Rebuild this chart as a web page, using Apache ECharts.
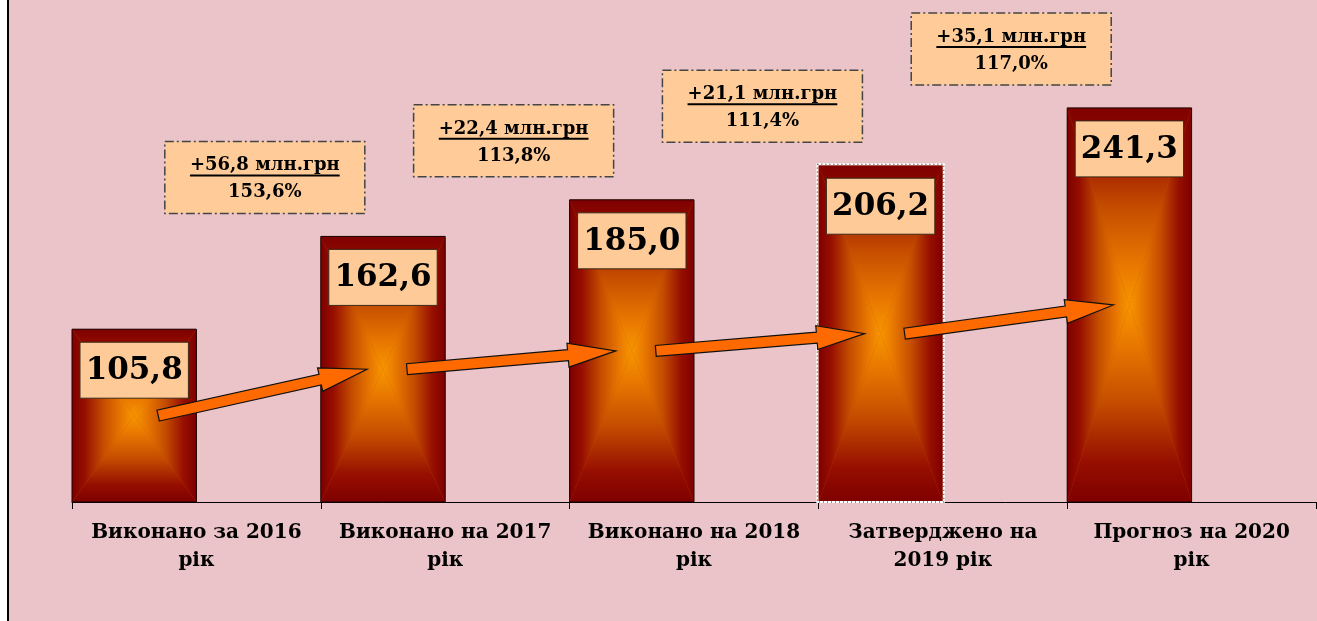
<!DOCTYPE html>
<html><head><meta charset="utf-8">
<script src="https://cdn.jsdelivr.net/npm/echarts@6/dist/echarts.min.js"></script>
<style>html,body{margin:0;padding:0;background:#fff}#c{width:1317px;height:621px}</style>
</head><body><div id="c"></div>
<script>
// ---- data ----
const categories = ['Виконано за 2016 рік', 'Виконано на 2017 рік', 'Виконано на 2018 рік', 'Затверджено на 2019 рік', 'Прогноз на 2020 рік'];
const values = [105.8, 162.6, 185.0, 206.2, 241.3];
const valueLabels = ['105,8', '162,6', '185,0', '206,2', '241,3'];
const growthAbs = ['+56,8', '+22,4', '+21,1', '+35,1'];
const growthPct = ['153,6%', '113,8%', '111,4%', '117,0%'];
const growthUnit = 'млн.грн';

// ---- style ----
const FONT = '"DejaVu Serif", "Liberation Serif", serif';
const AXIS_FONT = 'bold 20px ' + FONT;
const VAL_FONT = 'bold 31px ' + FONT;
const ANN_FONT = 'bold 18px ' + FONT;
const highlightIndex = 3;
const barStops = [
  {offset: 0, color: '#7e0000'}, {offset: 0.2, color: '#960e00'}, {offset: 0.5, color: '#c44c00'},
  {offset: 0.8, color: '#e87800'}, {offset: 1, color: '#f89600'}
];

const mctx = document.createElement('canvas').getContext('2d');
function tw(t, font) { mctx.font = font; return mctx.measureText(t).width; }
function wrap(label, font, maxW) {
  const words = label.split(' '); const lines = []; let cur = '';
  for (const w of words) {
    const t = cur ? cur + ' ' + w : w;
    if (cur && tw(t, font) > maxW) { lines.push(cur); cur = w; } else cur = t;
  }
  lines.push(cur); return lines.join('\n');
}
function grad(x, y, x2, y2) {
  return new echarts.graphic.LinearGradient(x, y, x2, y2, barStops, true);
}

function renderBar(params, api) {
  const i = api.value(0), v = api.value(1);
  const top = api.coord([i, v]), base = api.coord([i, 0]);
  const bw = api.size([1, 0])[0];
  const x0 = top[0] - bw / 2, x1 = top[0], y0 = top[1], y1 = base[1];
  const cx = (x0 + x1) / 2, cy = (y0 + y1) / 2;
  const children = [
    {type: 'rect', shape: {x: x0, y: y0, width: x1 - x0, height: y1 - y0}, style: {fill: '#c44c00'}},
    {type: 'polygon', shape: {points: [[x0, y0], [cx, cy], [x0, y1]]}, style: {fill: grad(x0, cy, cx, cy)}},
    {type: 'polygon', shape: {points: [[x1, y0], [cx, cy], [x1, y1]]}, style: {fill: grad(x1, cy, cx, cy)}},
    {type: 'polygon', shape: {points: [[x0, y0], [x1, y0], [cx, cy]]}, style: {fill: grad(cx, y0, cx, cy)}},
    {type: 'polygon', shape: {points: [[x0, y1], [x1, y1], [cx, cy]]}, style: {fill: grad(cx, y1, cx, cy)}},
  ];
  if (params.dataIndex === highlightIndex) {
    children.push({type: 'rect', shape: {x: x0 - 1, y: y0 - 1, width: x1 - x0 + 2, height: y1 - y0 + 1}, style: {fill: null, stroke: '#ffffff', lineWidth: 2}});
    children.push({type: 'rect', shape: {x: x0 - 1, y: y0 - 1, width: x1 - x0 + 2, height: y1 - y0 + 1}, style: {fill: null, stroke: '#222', lineWidth: 1, lineDash: [1, 3]}});
  } else {
    children.push({type: 'rect', shape: {x: x0, y: y0, width: x1 - x0, height: y1 - y0}, style: {fill: null, stroke: '#1a0000', lineWidth: 1}});
  }
  const bx = x0 + 8, by = y0 + 13, bwid = x1 - x0 - 16, bh = 56;
  children.push({type: 'rect', shape: {x: bx, y: by, width: bwid, height: bh}, style: {fill: '#fecb98', stroke: '#3a2a1a', lineWidth: 1}});
  children.push({type: 'text', style: {text: valueLabels[params.dataIndex], x: bx + bwid / 2, y: by + bh / 2 + 1, font: VAL_FONT, fill: '#000', align: 'center', verticalAlign: 'middle'}});
  return {type: 'group', children};
}

function renderArrow(params, api) {
  const i = api.value(0), v0 = api.value(1), v1 = api.value(2);
  const bw = api.size([1, 0])[0];
  const a = api.coord([i, v0 / 2]), b = api.coord([i + 1, v1 / 2]);
  const sx = a[0] - bw / 4 + 24, sy = a[1];
  const ex = b[0] - bw / 4 - 16, ey = b[1];
  const L = Math.hypot(ex - sx, ey - sy);
  const dx = (ex - sx) / L, dy = (ey - sy) / L, nx = -dy, ny = dx;
  const hw = 5.5, hh = 12, hl = 48;
  const nxp = ex - dx * hl, nyp = ey - dy * hl;
  const pts = [
    [sx + nx * hw, sy + ny * hw],
    [nxp + nx * hw, nyp + ny * hw],
    [nxp + nx * hh, nyp + ny * hh],
    [ex, ey],
    [nxp - nx * hh, nyp - ny * hh],
    [nxp - nx * hw, nyp - ny * hw],
    [sx - nx * hw, sy - ny * hw]
  ];
  return {type: 'polygon', shape: {points: pts}, style: {fill: '#ff6a00', stroke: '#111', lineWidth: 1.2}};
}

function renderAnn(params, api) {
  const i = api.value(0), v = api.value(1);
  const bw = api.size([1, 0])[0];
  const p = api.coord([i, v]);
  const cx = p[0] - bw / 2 + bw * 0.775;
  const cy = p[1] - 59;
  const W = 200, H = 72;
  const x = cx - W / 2, y = cy - H / 2;
  const l1 = growthAbs[params.dataIndex] + ' ' + growthUnit;
  const uw = tw(l1, ANN_FONT);
  return {type: 'group', children: [
    {type: 'rect', shape: {x: x, y: y, width: W, height: H}, style: {fill: '#ffcc99', stroke: '#444', lineWidth: 1.5, lineDash: [9, 3, 2, 3]}},
    {type: 'text', style: {text: l1, x: cx, y: y + 24, font: ANN_FONT, fill: '#000', align: 'center', verticalAlign: 'middle'}},
    {type: 'line', shape: {x1: cx - uw / 2, y1: y + 34, x2: cx + uw / 2, y2: y + 34}, style: {stroke: '#000', lineWidth: 2}},
    {type: 'text', style: {text: growthPct[params.dataIndex], x: cx, y: y + 51, font: ANN_FONT, fill: '#000', align: 'center', verticalAlign: 'middle'}}
  ]};
}

const chart = echarts.init(document.getElementById('c'), null, {renderer: 'canvas'});
chart.setOption({
  animation: false,
  backgroundColor: '#eac4c8',
  grid: {left: 72, right: 1, top: 12, bottom: 119},
  xAxis: {
    type: 'category', data: categories, boundaryGap: true,
    axisLine: {lineStyle: {color: '#000', width: 1}},
    axisTick: {show: true, length: 7, interval: 0, lineStyle: {color: '#000'}},
    axisLabel: {interval: 0, color: '#000', fontFamily: FONT, fontWeight: 'bold', fontSize: 20, lineHeight: 28, margin: 17,
      formatter: s => wrap(s, AXIS_FONT, 222)}
  },
  yAxis: {type: 'value', min: 0, max: 300, show: false, splitLine: {show: false}},
  graphic: [
    {type: 'rect', left: 0, top: 0, shape: {x: 0, y: 0, width: 8, height: 621}, style: {fill: '#fff'}, z: 100},
    {type: 'line', shape: {x1: 8, y1: 0, x2: 8, y2: 621}, style: {stroke: '#000', lineWidth: 2}, z: 100}
  ],
  series: [
    {type: 'custom', renderItem: renderBar, data: values.map((v, i) => [i, v]), z: 2},
    {type: 'custom', renderItem: renderArrow, data: values.slice(0, -1).map((v, i) => [i, v, values[i + 1]]), z: 3},
    {type: 'custom', renderItem: renderAnn, data: growthAbs.map((g, i) => [i, values[i + 1]]), z: 4}
  ]
});
</script></body></html>
